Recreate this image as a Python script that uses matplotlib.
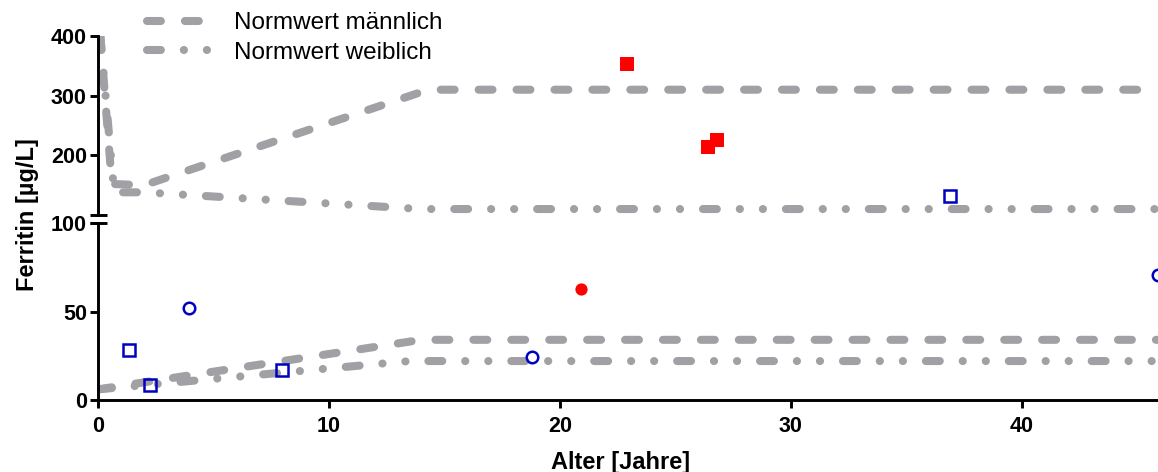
import matplotlib
matplotlib.use("Agg")
import matplotlib.pyplot as plt

# Normwerte (Ober-/Untergrenze) nach Alter
male_upper_age = [0.1, 0.6, 2.0, 14.3, 46]
male_upper_val = [400, 152, 150, 310, 310]
female_upper_age = [0.1, 0.7, 2.0, 14.0, 46]
female_upper_val = [400, 138, 138, 110, 110]
male_lower_age = [0, 14.0, 46]
male_lower_val = [6, 34, 34]
female_lower_age = [0, 13.5, 46]
female_lower_val = [6, 22, 22]

# Patienten
red_sq_age = [22.9, 26.4, 26.8]
red_sq_val = [353, 214, 226]
red_ci_age = [20.9]
red_ci_val = [62.5]
blue_sq_age = [1.35, 2.25, 7.95, 36.9]
blue_sq_val = [28.5, 8.5, 17, 132]
blue_ci_age = [3.95, 18.8, 45.9]
blue_ci_val = [51.7, 24.5, 70.5]

xticks = [0, 10, 20, 30, 40]

plt.rcParams['font.family'] = ['Liberation Sans', 'DejaVu Sans']
plt.rcParams['lines.scale_dashes'] = False

W, H = 1158, 472
fig = plt.figure(figsize=(W / 100, H / 100), dpi=100)
x0 = 98 / W
ax_top = fig.add_axes([x0, (H - 215) / H, 1 - x0, 179 / H])
ax_bot = fig.add_axes([x0, (H - 400) / H, 1 - x0, 177 / H])

grey = '#a0a0a5'
lw = 5.8
dash_m = (0, (10, 17.3))
dash_f = (0, (10, 16.5, 0.1, 16.5, 0.1, 16.5))

for ax in (ax_top, ax_bot):
    lm, = ax.plot(male_upper_age, male_upper_val, color=grey, lw=lw, ls=dash_m,
                  dash_capstyle='round', label='Normwert männlich')
    lf, = ax.plot(female_upper_age, female_upper_val, color=grey, lw=lw, ls=dash_f,
                  dash_capstyle='round', label='Normwert weiblich')
    ax.plot(male_lower_age, male_lower_val, color=grey, lw=lw, ls=dash_m,
            dash_capstyle='round')
    ax.plot(female_lower_age, female_lower_val, color=grey, lw=lw, ls=dash_f,
            dash_capstyle='round')
    ax.plot(red_sq_age, red_sq_val, 's', color='#ff0000', ms=9.4, mew=0)
    ax.plot(red_ci_age, red_ci_val, 'o', color='#ff0000', ms=8.8, mew=0)
    ax.plot(blue_sq_age, blue_sq_val, 's', mfc='none', mec='#0000c0', ms=9, mew=1.8)
    ax.plot(blue_ci_age, blue_ci_val, 'o', mfc='none', mec='#0000c0', ms=8.3, mew=1.8)
    ax.set_xlim(0, 45.9)
    for s in ('top', 'right'):
        ax.spines[s].set_visible(False)
    ax.spines['left'].set_linewidth(2.1)
    ax.spines['bottom'].set_linewidth(2.1)
    ax.tick_params(axis='y', width=2.1, length=6, labelsize=15.5, pad=2)
    ax.tick_params(axis='x', width=2.1, length=6, labelsize=15.5, pad=5.5)
    if ax is ax_top:
        handles = [lm, lf]

ax_top.set_ylim(100, 400)
ax_top.set_yticks([200, 300, 400])
ax_top.spines['bottom'].set_visible(False)
ax_top.set_xticks([])
ax_bot.set_ylim(0, 100)
ax_bot.set_yticks([0, 50, 100])
ax_bot.set_xticks(xticks)
ax_bot.set_yticklabels(['0', '50', '100'], fontweight='bold')
ax_top.set_yticklabels(['200', '300', '400'], fontweight='bold')
ax_bot.set_xticklabels([str(v) for v in xticks], fontweight='bold')

# Achsenbruch-Markierungen
bw = 8 / (W - 98)
for ax in (ax_top, ax_bot):
    yb = 0 if ax is ax_top else 1
    ax.plot([-bw, bw * 1.1], [yb, yb], transform=ax.transAxes, color='black',
            lw=2.1, clip_on=False, solid_capstyle='butt')

fig.text(28 / W, 1 - 215 / H, 'Ferritin [µg/L]', rotation=90, ha='center',
         va='center', fontsize=17, fontweight='bold')
fig.text(621 / W, 1 - 462 / H, 'Alter [Jahre]', ha='center', va='center',
         fontsize=17, fontweight='bold')

fig.legend(handles=handles, loc='upper left', bbox_to_anchor=(147 / W, 1 - 12 / H),
           frameon=False, fontsize=17.5, handlelength=2.6, handletextpad=1.0,
           borderpad=0, borderaxespad=0, labelspacing=0.32)

fig.savefig('out.png', dpi=100)
